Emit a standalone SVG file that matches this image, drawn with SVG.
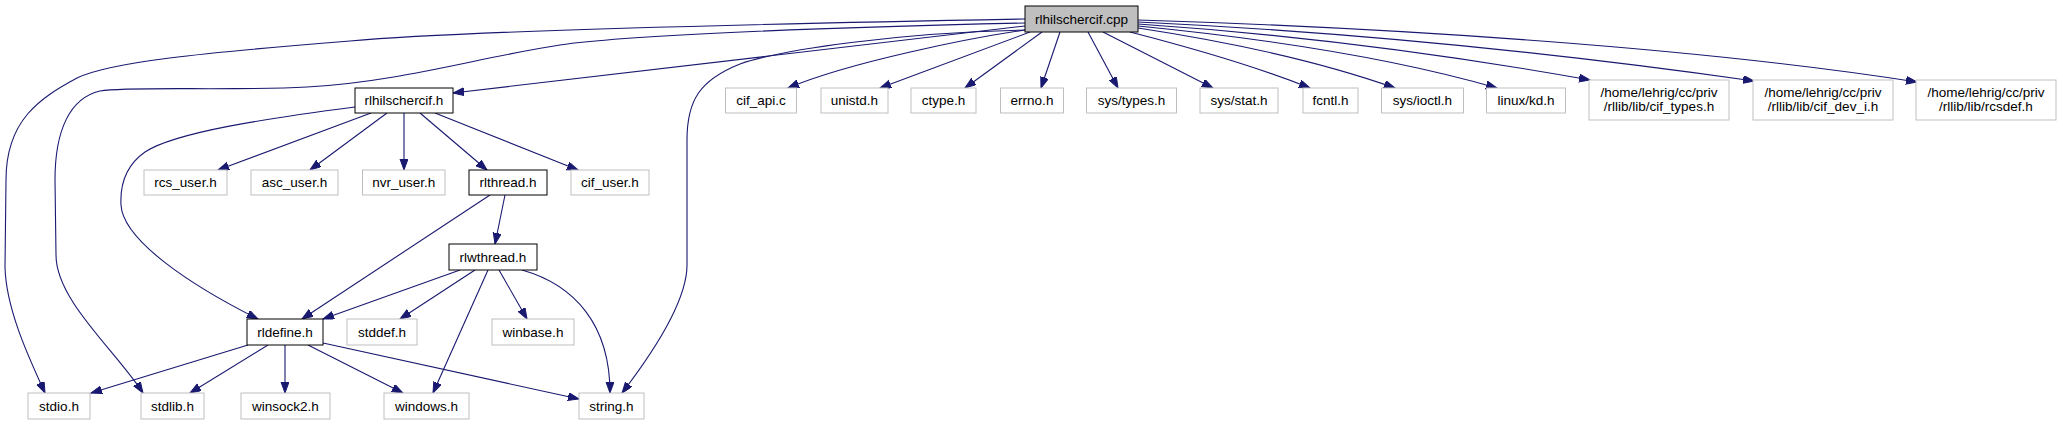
<svg xmlns="http://www.w3.org/2000/svg" width="2063" height="425" viewBox="0 0 2063 425">
<style>
.ext rect{fill:#ffffff;stroke:#bfbfbf;stroke-width:1}
.doc rect{fill:#ffffff;stroke:#000000;stroke-width:1}
.cur rect{fill:#bfbfbf;stroke:#000000;stroke-width:1}
text{font-family:"Liberation Sans",Arial,sans-serif;font-size:13.5px;fill:#000000;text-anchor:middle}
#edges path{fill:none;stroke:#191970;stroke-width:1.1;marker-end:url(#ah)}
</style>
<defs>
<marker id="ah" markerUnits="userSpaceOnUse" markerWidth="12" markerHeight="9" refX="11" refY="4" orient="auto">
<path d="M0,0 L11,4 L0,8 z" fill="#191970" stroke="#191970" stroke-width="1"/>
</marker>
</defs>
<rect width="2063" height="425" fill="#ffffff"/>
<g id="edges">
<path d="M1025,19 C750,24 450,32 350,41 C200,53 110,62 77,78 C40,98 6,120 6,180 L5,267 C6,310 30,360 45,393"/>
<path d="M1025,23 C800,28 620,36 560,45 C480,57 400,82 307,87 C230,91 130,86 100,91 C70,98 55,130 55,180 L56,255 C56,300 115,350 143,393"/>
<path d="M1025,26 L453,93"/>
<path d="M1030,30 C900,32 780,50 740,64 C700,80 687,100 687,140 L687,265 C687,300 655,350 622,393"/>
<path d="M1025,30 C970,38 850,62 788,88"/>
<path d="M1030,32 L880,88"/>
<path d="M1042,32 L965,88"/>
<path d="M1060,32 L1041,88"/>
<path d="M1088,32 L1118,88"/>
<path d="M1103,32 L1213,88"/>
<path d="M1130,32 C1200,50 1260,68 1310,88"/>
<path d="M1138,28 C1250,45 1330,65 1395,88"/>
<path d="M1138,26 C1280,40 1400,60 1497,88"/>
<path d="M1138,24 C1300,35 1450,55 1590,80"/>
<path d="M1138,22 C1350,32 1550,52 1754,81"/>
<path d="M1138,20 C1400,28 1700,48 1917,82"/>
<path d="M371,113 L218,170"/>
<path d="M387,113 L310,170"/>
<path d="M404,113 L404,170"/>
<path d="M420,113 L487,170"/>
<path d="M435,113 L578,170"/>
<path d="M355,107 C270,118 175,132 145,152 C125,166 120,185 121,205 C123,240 190,285 258,319"/>
<path d="M505,195 L495,244"/>
<path d="M490,195 L302,319"/>
<path d="M460,270 L323,319"/>
<path d="M475,270 L400,319"/>
<path d="M488,270 L433,393"/>
<path d="M499,270 L527,319"/>
<path d="M522,270 C575,285 610,325 610,393"/>
<path d="M248,345 L91,393"/>
<path d="M268,345 L190,393"/>
<path d="M285,345 L285,393"/>
<path d="M308,345 L403,393"/>
<path d="M323,343 L579,399"/>
</g>
<g id="n_cpp" class="cur"><rect x="1025" y="6" width="113" height="26"/><text x="1081.5" y="23.5">rlhilschercif.cpp</text></g>
<g id="n_hil_h" class="doc"><rect x="355" y="88" width="98" height="25"/><text x="404" y="105">rlhilschercif.h</text></g>
<g id="n_cif_api" class="ext"><rect x="725.5" y="88" width="71" height="25"/><text x="761" y="105">cif_api.c</text></g>
<g id="n_unistd" class="ext"><rect x="821" y="88" width="67" height="25"/><text x="854.5" y="105">unistd.h</text></g>
<g id="n_ctype" class="ext"><rect x="911" y="88" width="65" height="25"/><text x="943.5" y="105">ctype.h</text></g>
<g id="n_errno" class="ext"><rect x="1000.5" y="88" width="63" height="25"/><text x="1032" y="105">errno.h</text></g>
<g id="n_systypes" class="ext"><rect x="1086.5" y="88" width="90" height="25"/><text x="1131.5" y="105">sys/types.h</text></g>
<g id="n_sysstat" class="ext"><rect x="1200" y="88" width="78" height="25"/><text x="1239" y="105">sys/stat.h</text></g>
<g id="n_fcntl" class="ext"><rect x="1303" y="88" width="55" height="25"/><text x="1330.5" y="105">fcntl.h</text></g>
<g id="n_sysioctl" class="ext"><rect x="1381.5" y="88" width="82" height="25"/><text x="1422.5" y="105">sys/ioctl.h</text></g>
<g id="n_linuxkd" class="ext"><rect x="1486.5" y="88" width="79" height="25"/><text x="1526" y="105">linux/kd.h</text></g>
<g id="n_ciftypes" class="ext"><rect x="1589" y="80" width="140" height="40"/><text x="1659" y="97">/home/lehrig/cc/priv</text><text x="1659" y="111">/rllib/lib/cif_types.h</text></g>
<g id="n_cifdevi" class="ext"><rect x="1753" y="80" width="140" height="40"/><text x="1823" y="97">/home/lehrig/cc/priv</text><text x="1823" y="111">/rllib/lib/cif_dev_i.h</text></g>
<g id="n_rcsdef" class="ext"><rect x="1916" y="80" width="140" height="40"/><text x="1986" y="97">/home/lehrig/cc/priv</text><text x="1986" y="111">/rllib/lib/rcsdef.h</text></g>
<g id="n_rcs_user" class="ext"><rect x="144" y="170" width="83" height="25"/><text x="185.5" y="187">rcs_user.h</text></g>
<g id="n_asc_user" class="ext"><rect x="251" y="170" width="87" height="25"/><text x="294.5" y="187">asc_user.h</text></g>
<g id="n_nvr_user" class="ext"><rect x="362.5" y="170" width="82.5" height="25"/><text x="403.75" y="187">nvr_user.h</text></g>
<g id="n_rlthread" class="doc"><rect x="469" y="170" width="78" height="25"/><text x="508" y="187">rlthread.h</text></g>
<g id="n_cif_user" class="ext"><rect x="571" y="170" width="78" height="25"/><text x="610" y="187">cif_user.h</text></g>
<g id="n_rlwthread" class="doc"><rect x="449" y="244" width="88" height="26"/><text x="493" y="261.5">rlwthread.h</text></g>
<g id="n_rldefine" class="doc"><rect x="247" y="319" width="76" height="26"/><text x="285" y="336.5">rldefine.h</text></g>
<g id="n_stddef" class="ext"><rect x="347" y="319" width="70" height="26"/><text x="382" y="336.5">stddef.h</text></g>
<g id="n_winbase" class="ext"><rect x="492" y="319" width="82" height="26"/><text x="533" y="336.5">winbase.h</text></g>
<g id="n_stdio" class="ext"><rect x="28" y="393" width="62" height="26"/><text x="59" y="410.5">stdio.h</text></g>
<g id="n_stdlib" class="ext"><rect x="141" y="393" width="63" height="26"/><text x="172.5" y="410.5">stdlib.h</text></g>
<g id="n_winsock2" class="ext"><rect x="241" y="393" width="89" height="26"/><text x="285.5" y="410.5">winsock2.h</text></g>
<g id="n_windows" class="ext"><rect x="384" y="393" width="85" height="26"/><text x="426.5" y="410.5">windows.h</text></g>
<g id="n_string" class="ext"><rect x="579" y="393" width="65" height="26"/><text x="611.5" y="410.5">string.h</text></g>
</svg>
